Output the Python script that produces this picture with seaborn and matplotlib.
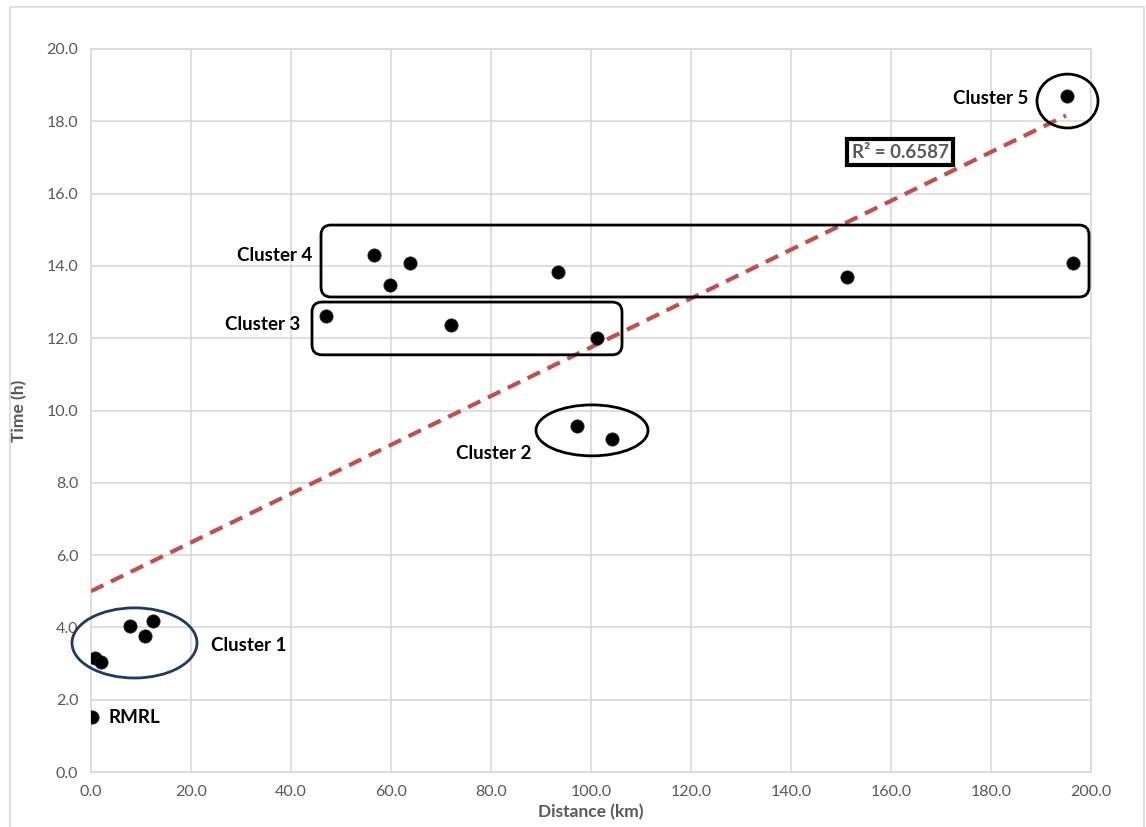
import numpy as np
import pandas as pd
import matplotlib
matplotlib.use("Agg")
import matplotlib.pyplot as plt
from matplotlib.patches import Ellipse, FancyBboxPatch, Rectangle
import seaborn as sns

# Site data: road distance (km) and travel time (h)
distance_km = [0.2, 0.8, 2.0, 7.8, 10.8, 12.4,
               97.2, 104.2,
               47.0, 72.0, 101.2,
               56.6, 59.8, 63.8, 93.4, 151.2, 196.4,
               195.2]
time_h = [1.52, 3.15, 3.04, 4.04, 3.76, 4.18,
          9.57, 9.21,
          12.61, 12.37, 12.00,
          14.30, 13.47, 14.08, 13.83, 13.69, 14.08,
          18.70]

# Linear trendline
trend_intercept = 5.0
trend_slope = 0.0675
trend_x = [0.0, 195.0]
r_squared = 0.6587

x_ticks = np.arange(0, 201, 20)
y_ticks = np.arange(0, 20.1, 2)

sns.set_theme(style="white")
plt.rcParams["font.family"] = ["Lato", "DejaVu Sans"]

fig = plt.figure(figsize=(11.46, 8.27), dpi=100)
ax = fig.add_axes([91 / 1146, 1 - 772 / 827, 1000 / 1146, 723 / 827])

grid_c = "#d9d9d9"
text_gray = "#595959"

# outer chart frame
fig.patches.append(Rectangle((10 / 1146, -0.05), 1134 / 1146, 1.05 - 7 / 827,
                             transform=fig.transFigure, fill=False,
                             edgecolor=grid_c, linewidth=1.2, zorder=0))

df = pd.DataFrame({"Distance (km)": distance_km, "Time (h)": time_h})
trend_df = pd.DataFrame({"x": trend_x,
                         "y": [trend_intercept + trend_slope * v for v in trend_x]})

sns.lineplot(data=trend_df, x="x", y="y", ax=ax, color="#c0504d",
             linewidth=3, linestyle=(0, (3.3, 2)), zorder=3)
sns.scatterplot(data=df, x="Distance (km)", y="Time (h)", ax=ax, s=90,
                color="black", edgecolor="#222222", linewidth=0.6, zorder=5)

ax.set_xlim(0, 200)
ax.set_ylim(0, 20)
ax.set_xticks(x_ticks)
ax.set_yticks(y_ticks)
ax.set_xticklabels([f"{v:.1f}" for v in x_ticks])
ax.set_yticklabels([f"{v:.1f}" for v in y_ticks])
ax.tick_params(axis="both", labelsize=11.5, colors=text_gray, length=0, pad=9)
ax.grid(True, color=grid_c, linewidth=1.2)
ax.set_axisbelow(True)
for s in ax.spines.values():
    s.set_color(grid_c)
    s.set_linewidth(1.2)

ax.set_xlabel("Distance (km)", fontsize=12.5, fontweight="bold", color=text_gray, labelpad=4)
ax.set_ylabel("Time (h)", fontsize=12.5, fontweight="bold", color=text_gray, labelpad=14)

# cluster outlines
ax.add_patch(Ellipse((8.7, 3.57), 25, 1.94, fill=False, edgecolor="#1f3864",
                     linewidth=2, zorder=4, clip_on=False))
ax.add_patch(Ellipse((100.2, 9.45), 22.4, 1.41, fill=False, edgecolor="black",
                     linewidth=2, zorder=4, clip_on=False))
ax.add_patch(Ellipse((195.3, 18.56), 12.2, 1.49, fill=False, edgecolor="black",
                     linewidth=2, zorder=4, clip_on=False))
asp = 5 / 36.15
ax.add_patch(FancyBboxPatch((46.0, 13.14), 153.6, 1.99,
                            boxstyle="round,pad=0,rounding_size=2",
                            mutation_aspect=asp, fill=False,
                            edgecolor="black", linewidth=2, zorder=4, clip_on=False))
ax.add_patch(FancyBboxPatch((44.2, 11.54), 62.0, 1.46,
                            boxstyle="round,pad=0,rounding_size=2",
                            mutation_aspect=asp, fill=False,
                            edgecolor="black", linewidth=2, zorder=4, clip_on=False))

lab = dict(fontsize=13.5, fontweight="bold", color="black", va="center", zorder=7)
ax.text(3.6, 1.52, "RMRL", ha="left", **lab)
ax.text(24.0, 3.51, "Cluster 1", ha="left", **lab)
ax.text(80.6, 8.82, "Cluster 2", ha="center", **lab)
ax.text(41.8, 12.37, "Cluster 3", ha="right", **lab)
ax.text(44.2, 14.30, "Cluster 4", ha="right", **lab)
ax.text(187.4, 18.62, "Cluster 5", ha="right", **lab)

ax.text(161.8, 17.15, f"R² = {r_squared:.4f}", ha="center", va="center",
        fontsize=13.5, fontweight="bold", color=text_gray, zorder=7,
        bbox=dict(boxstyle="square,pad=0.25", facecolor="white",
                  edgecolor="black", linewidth=3))

fig.savefig("out.png", dpi=100)
